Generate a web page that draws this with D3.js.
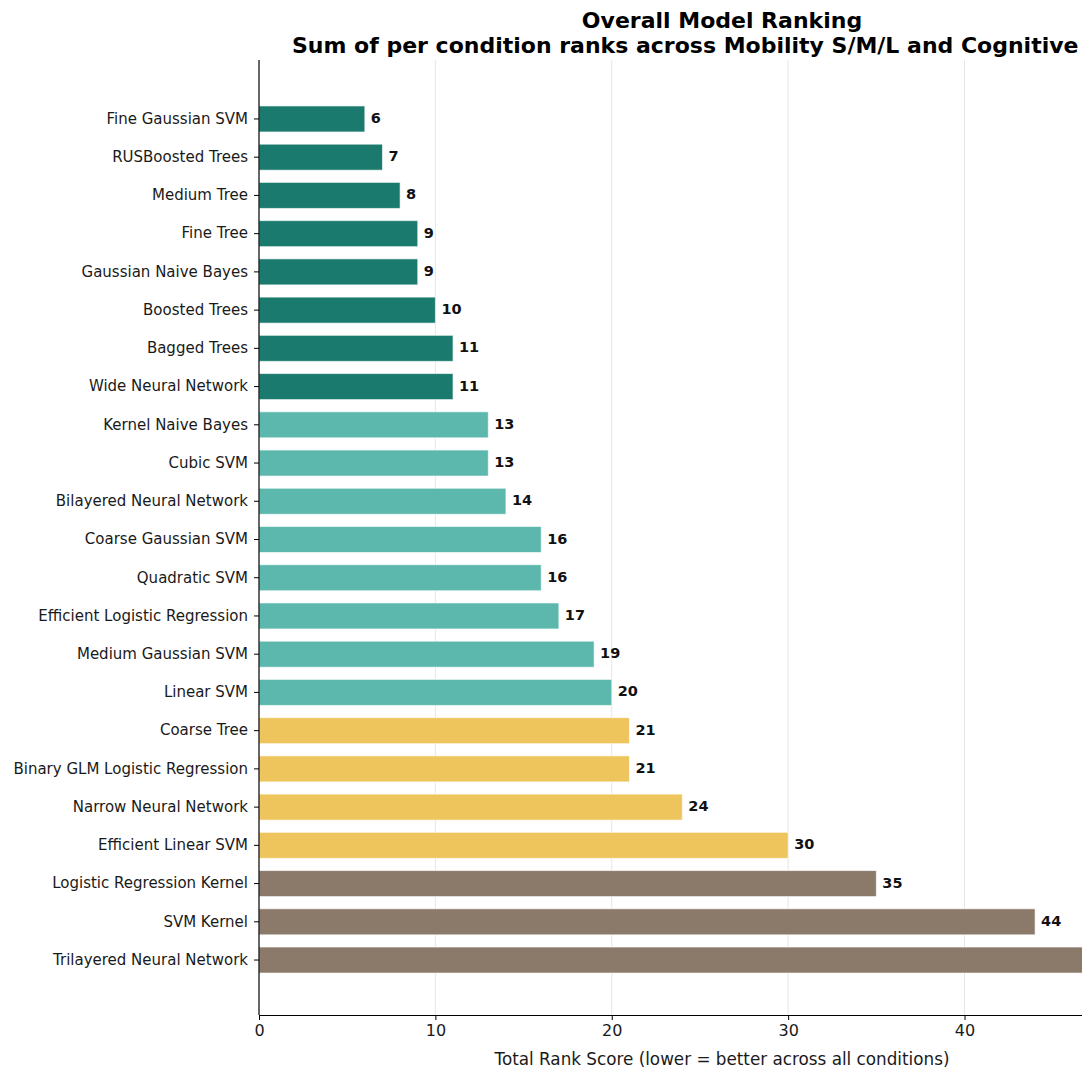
<!DOCTYPE html>
<html>
<head>
<meta charset="utf-8">
<script src="https://cdn.jsdelivr.net/npm/d3@7"></script>
<style>
  body { margin: 0; background: #fff; }
  svg { font-family: "DejaVu Sans", sans-serif; display: block; }
</style>
</head>
<body>
<div id="chart"></div>
<script>
// model names, best (lowest total rank) first
var models = [
  "Fine Gaussian SVM", "RUSBoosted Trees", "Medium Tree", "Fine Tree",
  "Gaussian Naive Bayes", "Boosted Trees", "Bagged Trees", "Wide Neural Network",
  "Kernel Naive Bayes", "Cubic SVM", "Bilayered Neural Network", "Coarse Gaussian SVM",
  "Quadratic SVM", "Efficient Logistic Regression", "Medium Gaussian SVM", "Linear SVM",
  "Coarse Tree", "Binary GLM Logistic Regression", "Narrow Neural Network",
  "Efficient Linear SVM", "Logistic Regression Kernel", "SVM Kernel",
  "Trilayered Neural Network"
];
var scores = [6, 7, 8, 9, 9, 10, 11, 11, 13, 13, 14, 16, 16, 17, 19, 20, 21, 21, 24, 30, 35, 44, 50];
// tier of each model (0 = top tier)
var tiers = [0, 0, 0, 0, 0, 0, 0, 0, 1, 1, 1, 1, 1, 1, 1, 1, 2, 2, 2, 2, 3, 3, 3];
var tierColors = ["#1b7a6e", "#5cb8ac", "#eec55c", "#8b7a6a"];
var xTicks = [0, 10, 20, 30, 40];

var W = 1082, H = 1068;
var margin = { top: 60, left: 259, bottom: 53 };
var plotRight = 1185; // the axis runs past the picture edge
var height = H - margin.top - margin.bottom;

var svg = d3.select("#chart").append("svg")
  .attr("width", W)
  .attr("height", H);

var x = d3.scaleLinear()
  .domain([0, 52.5])
  .range([margin.left, plotRight]);

var y = d3.scaleBand()
  .domain(models)
  .range([margin.top + 2, margin.top + height + 2])
  .paddingInner(0.32)
  .paddingOuter(1.15);

// grid
svg.append("g")
  .selectAll("line")
  .data(xTicks.filter(function (d) { return d > 0; }))
  .enter().append("line")
  .attr("x1", function (d) { return x(d); })
  .attr("x2", function (d) { return x(d); })
  .attr("y1", margin.top)
  .attr("y2", margin.top + height)
  .attr("stroke", "#e6e6e6")
  .attr("stroke-width", 1);

// bars
svg.append("g")
  .selectAll("rect")
  .data(models)
  .enter().append("rect")
  .attr("x", x(0))
  .attr("y", function (d) { return y(d); })
  .attr("width", function (d, i) { return x(scores[i]) - x(0); })
  .attr("height", y.bandwidth())
  .attr("fill", function (d, i) { return tierColors[tiers[i]]; })
  .attr("stroke", "#ffffff")
  .attr("stroke-opacity", 0.6)
  .attr("stroke-width", 1);

// value labels (the last one falls outside the picture)
svg.append("g")
  .selectAll("text")
  .data(models.filter(function (d, i) { return x(scores[i]) + 6 < W - 20; }))
  .enter().append("text")
  .attr("x", function (d) { return x(scores[models.indexOf(d)]) + 6; })
  .attr("y", function (d) { return y(d) + y.bandwidth() / 2 - 1; })
  .attr("dy", "0.35em")
  .attr("font-size", 14.5)
  .attr("font-weight", "bold")
  .attr("fill", "#111")
  .text(function (d) { return scores[models.indexOf(d)]; });

// y axis
var yAxis = svg.append("g")
  .attr("transform", "translate(" + margin.left + ",0)")
  .call(d3.axisLeft(y).tickSize(5).tickPadding(6).tickSizeOuter(0));
yAxis.select(".domain").attr("stroke", "#000").attr("stroke-width", 1.2)
  .attr("d", "M0," + margin.top + "V" + (margin.top + height));
yAxis.selectAll("text").attr("font-size", 15).attr("fill", "#1a1a1a")
  .attr("font-family", "DejaVu Sans, sans-serif");

// x axis
var xAxis = svg.append("g")
  .attr("transform", "translate(0," + (margin.top + height) + ")")
  .call(d3.axisBottom(x).tickValues(xTicks).tickSize(5).tickPadding(5).tickSizeOuter(0));
xAxis.select(".domain").attr("stroke", "#000").attr("stroke-width", 1.2);
xAxis.selectAll("text").attr("font-size", 16).attr("fill", "#1a1a1a")
  .attr("font-family", "DejaVu Sans, sans-serif");

svg.append("text")
  .attr("x", (margin.left + plotRight) / 2)
  .attr("y", 1065)
  .attr("text-anchor", "middle")
  .attr("font-size", 16.8)
  .attr("fill", "#1a1a1a")
  .text("Total Rank Score (lower = better across all conditions)");

// title
svg.append("text")
  .attr("x", (margin.left + plotRight) / 2)
  .attr("y", 28)
  .attr("text-anchor", "middle")
  .attr("font-size", 22)
  .attr("font-weight", "bold")
  .text("Overall Model Ranking");
svg.append("text")
  .attr("x", 292)
  .attr("y", 53)
  .attr("font-size", 22)
  .attr("font-weight", "bold")
  .text("Sum of per condition ranks across Mobility S/M/L and Cognitive");
</script>
</body>
</html>
